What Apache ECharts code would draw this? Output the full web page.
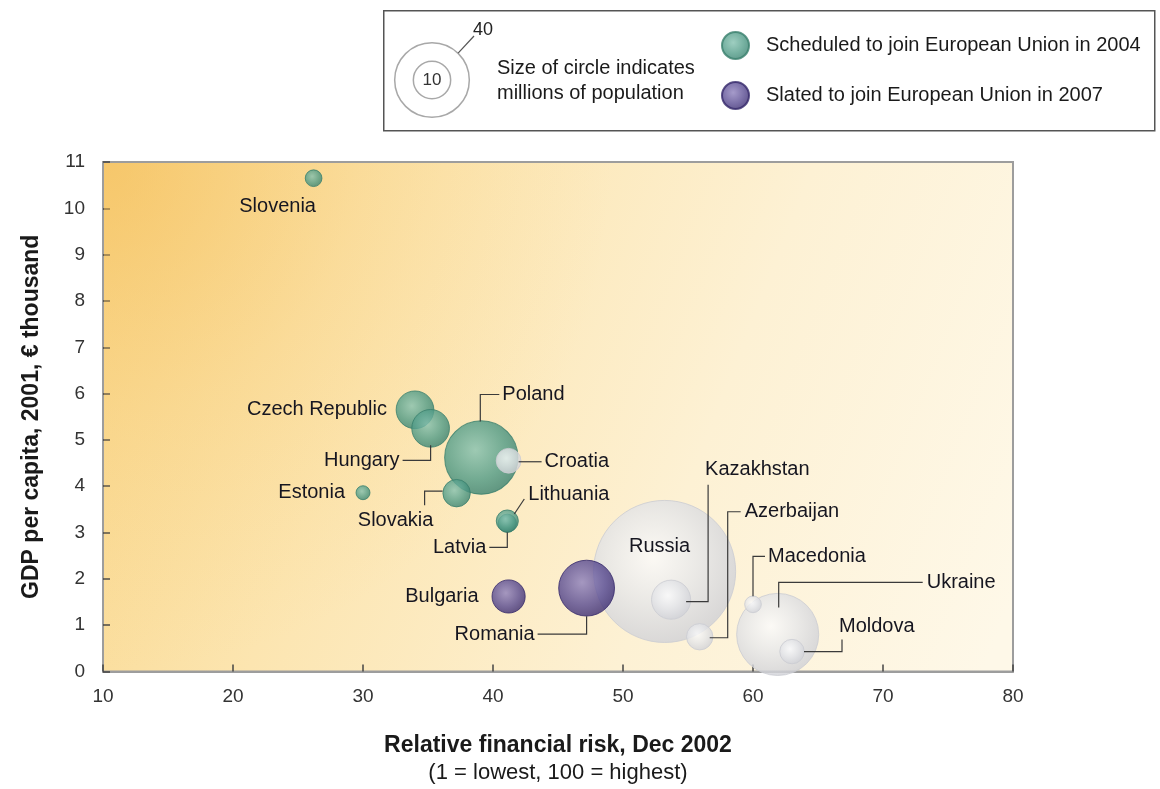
<!DOCTYPE html>
<html>
<head>
<meta charset="utf-8">
<script src="https://cdn.jsdelivr.net/npm/echarts@6/dist/echarts.min.js"></script>
<style>
html,body{margin:0;padding:0;background:#fff;}
#chart{width:1160px;height:789px;}
</style>
</head>
<body>
<div id="chart"></div>
<script>
// ---- data ----
const COUNTRIES = ['Slovenia','Czech Republic','Hungary','Poland','Estonia','Slovakia','Latvia','Lithuania',
                   'Bulgaria','Romania',
                   'Russia','Ukraine','Kazakhstan','Azerbaijan','Croatia','Moldova','Macedonia'];
const RISK = [26.2, 34.0, 35.2, 39.1, 30.0, 37.2, 41.1, 41.1,
              41.2, 47.2,
              53.2, 61.9, 53.7, 55.9, 41.2, 63.0, 60.0];
const GDP  = [10.65, 5.65, 5.25, 4.62, 3.86, 3.85, 3.2, 3.25,
              1.62, 1.8,
              2.16, 0.8, 1.55, 0.75, 4.55, 0.43, 1.45];
const POP  = [2.0, 10.2, 10.2, 38.6, 1.4, 5.4, 2.4, 3.5,
              7.9, 22.4,
              145, 48.4, 11, 5, 4.4, 4.3, 2.0];
const GROUP = ['eu2004','eu2004','eu2004','eu2004','eu2004','eu2004','eu2004','eu2004',
               'eu2007','eu2007',
               'other','other','other','other','other','other','other'];
const SERIES_NAMES = {eu2004:'Scheduled to join European Union in 2004', eu2007:'Slated to join European Union in 2007', other:'Other'};
const X_TICKS = [10,20,30,40,50,60,70,80];
const Y_TICKS = [0,1,2,3,4,5,6,7,8,9,10,11];
const SIZE_LEGEND = [40, 10];

// ---- layout (pixel offsets of labels / leader lines relative to the circle centre) ----
const LABEL_LAYOUT = {
  'Slovenia':       {dx:-36, dy:28, align:'center'},
  'Czech Republic': {dx:-28, dy:0, align:'right'},
  'Hungary':        {dx:-31, dy:32, align:'right', line:[[-28,32],[0,32],[0,17]]},
  'Poland':         {dx:21, dy:-63, align:'left', line:[[18,-63],[-1,-63],[-1,-36]]},
  'Estonia':        {dx:-18, dy:0, align:'right'},
  'Slovakia':       {dx:-61, dy:27, align:'center', line:[[-14,-2],[-32,-2],[-32,12]]},
  'Lithuania':      {dx:21, dy:-26, align:'left', line:[[7,-7],[17,-22]]},
  'Latvia':         {dx:-21, dy:24, align:'right', line:[[-18,24],[0,24],[0,9]]},
  'Bulgaria':       {dx:-30, dy:0, align:'right'},
  'Romania':        {dx:-52, dy:46, align:'right', line:[[-49,46],[0,46],[0,28]]},
  'Croatia':        {dx:36, dy:1, align:'left', line:[[33,1],[10,1]]},
  'Russia':         {dx:-5, dy:-25, align:'center'},
  'Kazakhstan':     {dx:34, dy:-130, align:'left', line:[[37,-115],[37,2],[15,2]]},
  'Azerbaijan':     {dx:45, dy:-125, align:'left', line:[[41,-125],[28,-125],[28,1],[10,1]]},
  'Macedonia':      {dx:15, dy:-48, align:'left', line:[[12,-48],[0,-48],[0,-8]]},
  'Ukraine':        {dx:149, dy:-52, align:'left', line:[[145,-52],[1,-52],[1,-27]]},
  'Moldova':        {dx:47, dy:-25, align:'left', line:[[50,-12],[50,0],[12,0]]}
};

const K = 5.9; // px of radius per sqrt(million)
const radius = p => K * Math.sqrt(p);

const FONT = '"Liberation Sans", Arial, sans-serif';

function rg(stops){ return new echarts.graphic.RadialGradient(0.42,0.4,0.62, stops); }
const STYLE = {
  eu2004: {color: rg([{offset:0,color:'#86c2b1'},{offset:0.65,color:'#4f9a86'},{offset:1,color:'#3a8170'}]), borderColor:'#3a7f6d', borderWidth:1},
  eu2007: {color: rg([{offset:0,color:'#8f82bd'},{offset:0.65,color:'#56488f'},{offset:1,color:'#3a2b70'}]), borderColor:'#35286a', borderWidth:1},
  other:  {color: rg([{offset:0,color:'#fbfbfc'},{offset:0.5,color:'#e6e7ea'},{offset:1,color:'#cfd0d6'}]), borderColor:'#cbccd2', borderWidth:1}
};

function pointsOf(group){
  const out = [];
  COUNTRIES.forEach((c,i)=>{ if(GROUP[i]===group) out.push({name:c, value:[RISK[i], GDP[i], POP[i]]}); });
  return out;
}
function scatter(group){
  return {
    name: SERIES_NAMES[group], type:'scatter',
    data: pointsOf(group),
    symbolSize: v => 2*radius(v[2]),
    itemStyle: STYLE[group],
    emphasis:{disabled:true},
    animation:false, z:3
  };
}

const chart = echarts.init(document.getElementById('chart'), null, {renderer:'canvas'});

const G = {left:103, right:147, top:162, bottom:117};
const legendCx = 432, legendCy = 80;
const option = {
  animation:false,
  backgroundColor:'#ffffff',
  grid:{left:G.left, right:G.right, top:G.top, bottom:G.bottom, show:true,
        backgroundColor: new echarts.graphic.LinearGradient(0,0.15,1,0.85,[
          {offset:0,color:'#f9d78c'},{offset:0.3,color:'#fce5b0'},{offset:0.65,color:'#fdf1d4'},{offset:1,color:'#fef8e8'}]),
        borderColor:'#9d9d9d', borderWidth:2},
  legend:{
    data:[SERIES_NAMES.eu2004, SERIES_NAMES.eu2007],
    orient:'vertical', left:721, top:31, itemWidth:27, itemHeight:27, itemGap:21,
    icon:'circle', padding:0,
    textStyle:{fontFamily:FONT, fontSize:20, color:'#1a1a1a', padding:[0,0,0,12]},
    selectedMode:false
  },
  xAxis:{
    type:'value', min:X_TICKS[0], max:X_TICKS[X_TICKS.length-1], interval:10,
    splitLine:{show:false},
    axisLine:{show:true, lineStyle:{color:'#9d9d9d', width:2}},
    axisTick:{show:true, inside:true, length:7, lineStyle:{color:'#444', width:1.5}},
    axisLabel:{fontFamily:FONT, fontSize:19, color:'#333', margin:16},
    name:'{a|Relative financial risk, Dec 2002}\n{b|(1 = lowest, 100 = highest)}',
    nameLocation:'middle', nameGap:60,
    nameTextStyle:{rich:{
      a:{fontFamily:FONT, fontSize:23, fontWeight:'bold', color:'#1a1a1a', lineHeight:28, align:'center'},
      b:{fontFamily:FONT, fontSize:22, color:'#1a1a1a', lineHeight:27, align:'center'}}}
  },
  yAxis:{
    type:'value', min:Y_TICKS[0], max:Y_TICKS[Y_TICKS.length-1], interval:1,
    splitLine:{show:false},
    axisLine:{show:true, lineStyle:{color:'#9d9d9d', width:2}},
    axisTick:{show:true, inside:true, length:7, lineStyle:{color:'#444', width:1.5}},
    axisLabel:{fontFamily:FONT, fontSize:19, color:'#333', margin:18},
    name:'GDP per capita, 2001, € thousand',
    nameLocation:'middle', nameGap:60,
    nameTextStyle:{fontFamily:FONT, fontSize:23, fontWeight:'bold', color:'#1a1a1a'}
  },
  series:[
    scatter('eu2004'),
    scatter('other'),
    scatter('eu2007'),
    {
      type:'custom', name:'labels', silent:true, animation:false, z:10,
      data: COUNTRIES.map((c,i)=>({name:c, value:[RISK[i], GDP[i]]})),
      renderItem:(params, api)=>{
        const name = COUNTRIES[params.dataIndex];
        const L = LABEL_LAYOUT[name];
        const c = api.coord([api.value(0), api.value(1)]);
        const children = [];
        if (L.line){
          children.push({type:'polyline', shape:{points:L.line.map(p=>[c[0]+p[0], c[1]+p[1]])},
            style:{stroke:'#3a3a3a', lineWidth:1.2, fill:null}});
        }
        children.push({type:'text', x:c[0]+L.dx, y:c[1]+L.dy,
          style:{text:name, align:L.align, verticalAlign:'middle', font:'20px '+FONT, fill:'#161620'}});
        return {type:'group', children};
      }
    }
  ],
  graphic:[
    // warm glow in the top-left corner of the plot area
    {type:'rect', left:G.left+1, top:G.top+1, z:1, silent:true,
     shape:{width:1160-G.left-G.right-2, height:789-G.top-G.bottom-2},
     style:{fill:new echarts.graphic.RadialGradient(0,0,1.0,[
        {offset:0,color:'rgba(244,186,80,0.55)'},{offset:0.5,color:'rgba(246,196,100,0.2)'},{offset:1,color:'rgba(248,205,120,0)'}])}},
    {type:'rect', left:383, top:10, shape:{width:771, height:120}, style:{fill:'#fff', stroke:'#555', lineWidth:1.5}, z:-1},
    {type:'circle', shape:{cx:legendCx, cy:legendCy, r:radius(SIZE_LEGEND[0])}, style:{fill:'#fff', stroke:'#a8a8a8', lineWidth:1.5}},
    {type:'circle', shape:{cx:legendCx, cy:legendCy, r:radius(SIZE_LEGEND[1])}, style:{fill:'#fff', stroke:'#a8a8a8', lineWidth:1.5}},
    {type:'text', style:{x:legendCx, y:legendCy, text:String(SIZE_LEGEND[1]), align:'center', verticalAlign:'middle', font:'17px '+FONT, fill:'#333'}},
    {type:'line', shape:{x1:legendCx+radius(SIZE_LEGEND[0])*0.7, y1:legendCy-radius(SIZE_LEGEND[0])*0.72, x2:474, y2:36}, style:{stroke:'#555', lineWidth:1.2}},
    {type:'text', style:{x:483, y:30, text:String(SIZE_LEGEND[0]), align:'center', verticalAlign:'middle', font:'18px '+FONT, fill:'#222'}},
    {type:'text', style:{x:497, y:68, text:'Size of circle indicates', align:'left', verticalAlign:'middle', font:'20px '+FONT, fill:'#1a1a1a'}},
    {type:'text', style:{x:497, y:93, text:'millions of population', align:'left', verticalAlign:'middle', font:'20px '+FONT, fill:'#1a1a1a'}}
  ]
};
chart.setOption(option);
</script>
</body>
</html>
